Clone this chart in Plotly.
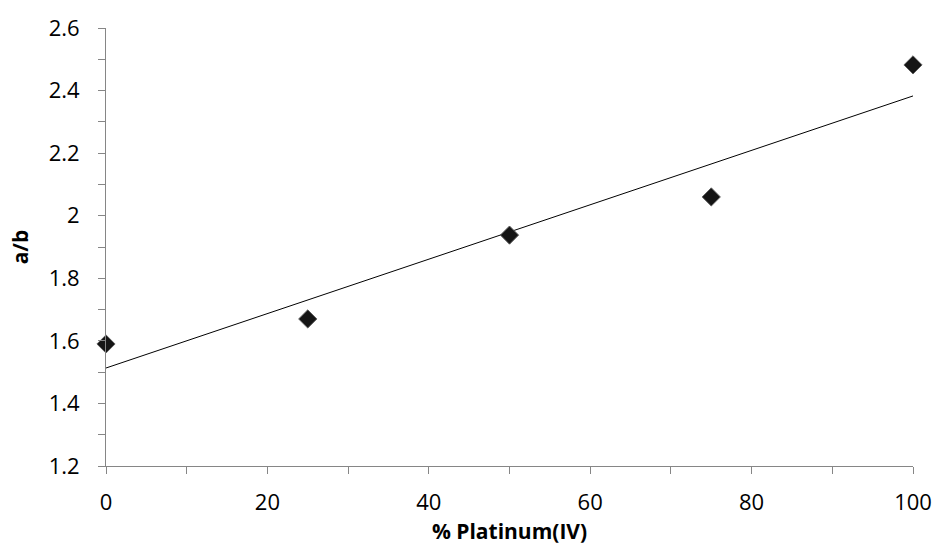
import numpy as np
import plotly.graph_objects as go

pct_pt = [0, 25, 50, 75, 100]
ratio_ab = [1.59, 1.67, 1.938, 2.06, 2.482]

slope, intercept = np.polyfit(pct_pt, ratio_ab, 1)
trend_x = [0, 100]
trend_y = [intercept + slope * v for v in trend_x]

font_family = "Open Sans"

fig = go.Figure()
fig.add_trace(go.Scatter(x=trend_x, y=trend_y, mode="lines",
                         line=dict(color="#000000", width=1), showlegend=False, hoverinfo="skip"))
fig.add_trace(go.Scatter(x=pct_pt, y=ratio_ab, mode="markers", cliponaxis=False,
                         marker=dict(symbol="diamond", size=14, color="#151515",
                                     line=dict(color="#606060", width=1)),
                         showlegend=False))

axis_common = dict(showline=True, linecolor="#868686", linewidth=1, showgrid=False, zeroline=False,
                   ticks="outside", ticklen=7, tickcolor="#868686", automargin=False,
                   tickfont=dict(family=font_family, size=22, color="#000000"))

fig.update_xaxes(range=[0, 100], dtick=20, tick0=0,
                 minor=dict(ticks="outside", ticklen=7, tickcolor="#868686", dtick=10, showgrid=False),
                 title=dict(text="<b>% Platinum(IV)</b>", font=dict(family=font_family, size=21, color="#000000"),
                            standoff=8),
                 ticklabelstandoff=10, **axis_common)
fig.update_yaxes(range=[1.2, 2.6], dtick=0.2, tick0=1.2,
                 minor=dict(ticks="outside", ticklen=7, tickcolor="#868686", dtick=0.1, showgrid=False),
                 title=dict(text="<b>a/b</b>", font=dict(family=font_family, size=21, color="#000000"),
                            standoff=14),
                 ticklabelstandoff=14, **axis_common)

fig.update_layout(width=936, height=559, margin=dict(l=106, r=23, t=28, b=93),
                  paper_bgcolor="white", plot_bgcolor="white")

fig.write_html("out.html")
